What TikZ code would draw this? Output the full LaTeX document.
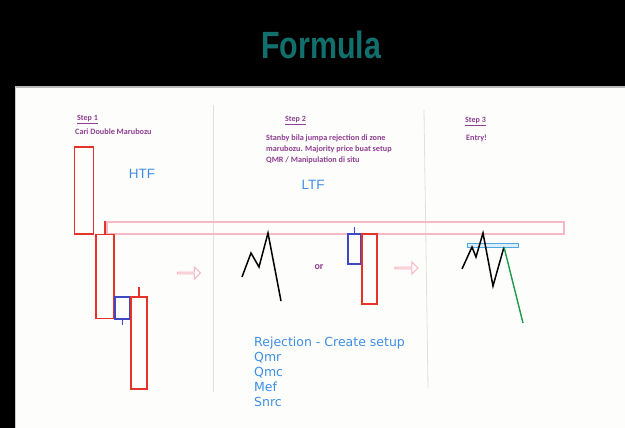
\documentclass[tikz,border=0pt]{standalone}
\usepackage{fontspec}
\setmainfont{Liberation Sans}
\newfontfamily\titlefont[FakeStretch=0.8]{Liberation Sans}
\newfontfamily\notefont{Carlito}
\newfontfamily\listfont{DejaVu Sans}
\usepackage{tikz}
\usetikzlibrary{shapes.arrows, positioning}
\definecolor{formteal}{HTML}{11706D}
\definecolor{formpurple}{HTML}{8E3F92}
\definecolor{formblue}{HTML}{3D8EE6}
\definecolor{candlered}{HTML}{E5332A}
\definecolor{candleblue}{HTML}{3F48C4}
\definecolor{zonepink}{HTML}{F5B8C4}
\definecolor{levelcyan}{HTML}{4DA8E2}
\definecolor{tradegreen}{HTML}{1E9A4E}
\definecolor{panelwhite}{HTML}{FDFDFB}

\begin{document}
\begin{tikzpicture}[
    x=1pt, y=-1pt,
    redbar/.style={rectangle, draw=candlered, line width=1.6pt, inner sep=0pt},
    bluebar/.style={rectangle, draw=candleblue, line width=1.6pt, inner sep=0pt},
    wick/.style={line width=1.6pt},
    price/.style={black, line width=1.5pt},
    steptitle/.style={anchor=base west, text=formpurple, font=\notefont\bfseries\fontsize{8}{10}\selectfont, inner sep=0pt},
    stepnote/.style={anchor=north west, text=formpurple, font=\notefont\bfseries\fontsize{8.2}{11}\selectfont, align=left, inner sep=0pt},
    tflabel/.style={text=formblue, font=\fontsize{13.5}{16}\selectfont, inner sep=0pt},
    hollow/.style={single arrow, draw=zonepink, line width=1pt, fill=white,
      minimum height=23pt, minimum width=12pt, single arrow head extend=3pt, inner sep=0pt},
    divider/.style={gray!25, line width=0.8pt},
  ]
  \fill[black] (0,0) rectangle (625,428);
  \useasboundingbox (0,0) rectangle (625,428);
  \node[text=formteal, font=\titlefont\bfseries\fontsize{38}{42}\selectfont] (title) at (321,45) {Formula};

  \fill[panelwhite] (15,87) rectangle (625,428);
  \draw[gray!55, line width=1.5pt] (15,87) -- (625,87);
  \draw[gray!40, line width=0.6pt] (15,87) -- (15,428);
  \draw[divider] (213,105) -- (213,392);
  \draw[divider] (424,110) -- (428,388);

  \node[steptitle] (s1) at (77,121) {\underline{Step 1}};
  \node[stepnote] (n1) at (75,129) {Cari Double Marubozu};
  \node[steptitle] (s2) at (285,122) {\underline{Step 2}};
  \node[stepnote] (n2) at (266,135) {Stanby bila jumpa rejection di zone\\marubozu. Majority price buat setup\\QMR / Manipulation di situ};
  \node[steptitle] (s3) at (465,123) {\underline{Step 3}};
  \node[stepnote] (n3) at (466,135) {Entry!};

  \node[tflabel] (htf) at (142,174) {HTF};
  \node[tflabel] (ltf) at (313,185) {LTF};
  \node[text=formpurple, font=\notefont\bfseries\fontsize{10}{12}\selectfont] (or) at (319,267) {or};

  \draw[zonepink, line width=1.3pt] (107,222) rectangle (564,234);

  \node[redbar, minimum width=19pt, minimum height=87pt] (c1) at (84,190.5) {};
  \node[redbar, minimum width=18pt, minimum height=84pt] (c2) at (105,276.5) {};
  \node[bluebar, minimum width=15pt, minimum height=22pt] (c3) at (122.5,308) {};
  \node[redbar, minimum width=16pt, minimum height=92pt] (c4) at (139,343) {};
  \draw[candlered, wick] (c2.north) -- ++(0,-13);
  \draw[candleblue, wick] (c3.south) -- ++(0,5);
  \draw[candlered, wick] (c4.north) -- ++(0,-9);

  \node[hollow] (a1) at (188.5,273) {};
  \draw[price] (242,277) -- (251,253) -- (259,267) -- (268,233) -- (281,301);

  \node[bluebar, minimum width=13pt, minimum height=30pt] (c5) at (354.5,249) {};
  \node[redbar, minimum width=15pt, minimum height=70pt] (c6) at (369.5,269) {};
  \draw[candleblue, wick] (c5.north) -- ++(0,-6);

  \node[hollow] (a2) at (406,268) {};

  \node[draw=levelcyan, fill=levelcyan!20, line width=1pt, minimum width=51pt, minimum height=4pt, inner sep=0pt] (lvl) at (492.5,245) {};
  \draw[price] (462,269) -- (472,247) -- (476,257) -- (483,233) -- (493,286) -- (504,247);
  \draw[tradegreen, line width=1.4pt] (504,247) -- (523,323);

  \node[anchor=north west, text=formblue, font=\listfont\fontsize{12.5}{15}\selectfont, align=left, inner sep=0pt] (list) at (254,337) {Rejection - Create setup\\Qmr\\Qmc\\Mef\\Snrc};
\end{tikzpicture}
\end{document}
